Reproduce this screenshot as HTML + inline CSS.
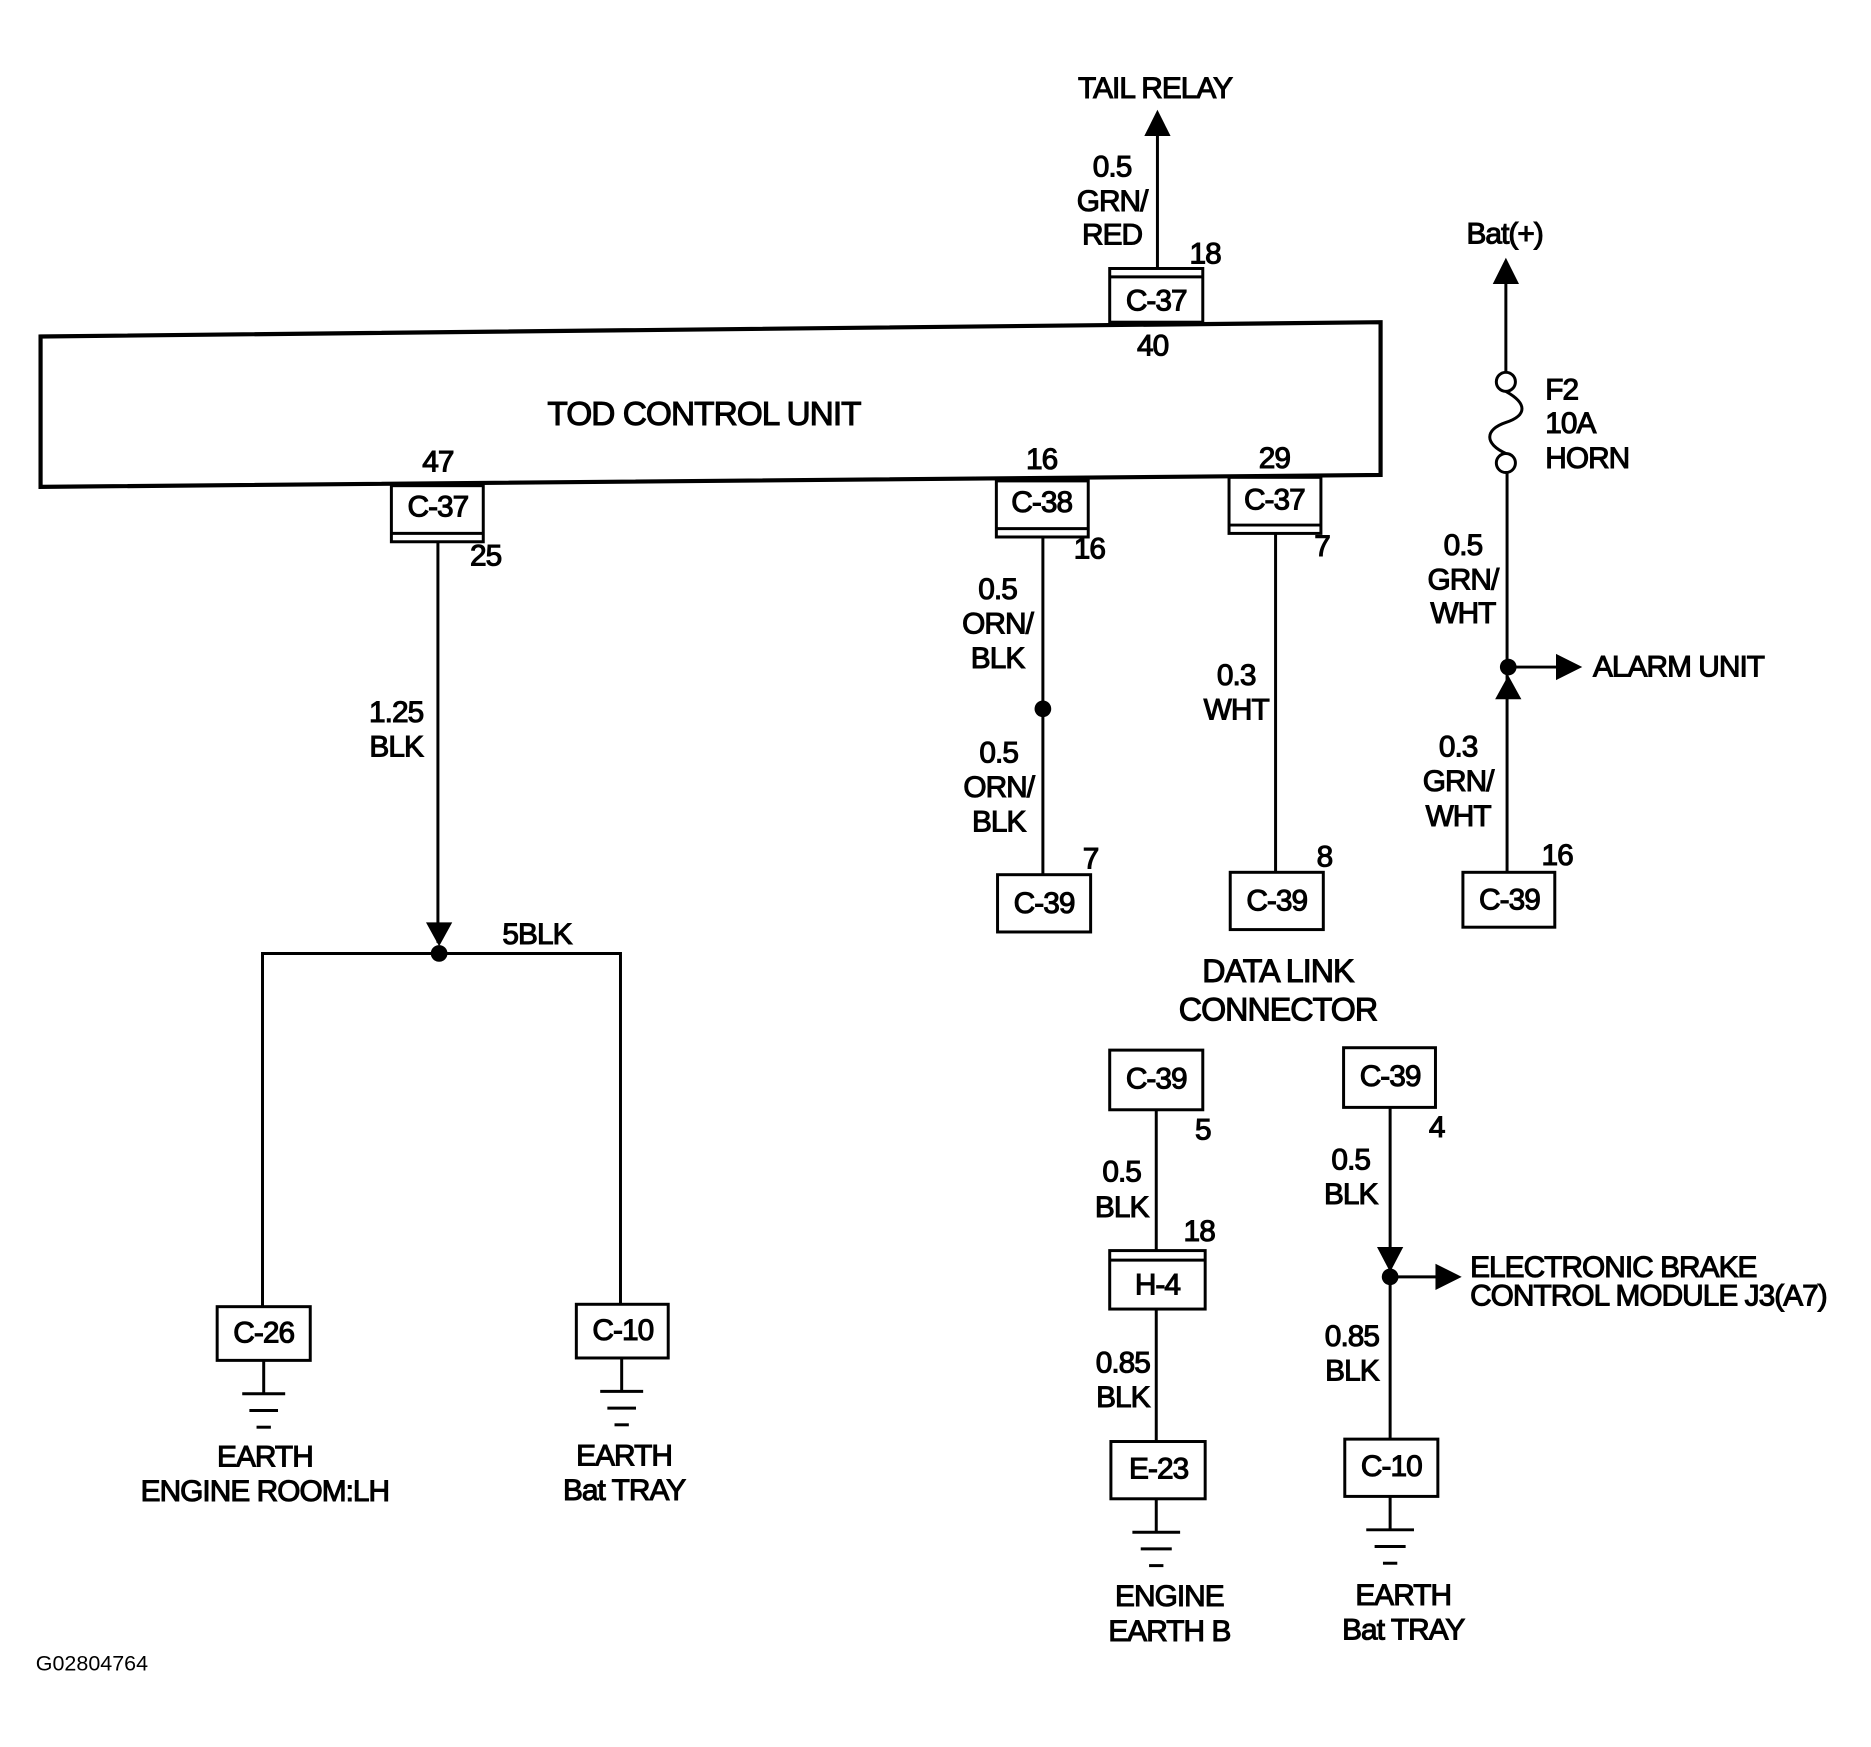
<!DOCTYPE html>
<html><head><meta charset="utf-8"><style>
html,body{margin:0;padding:0;background:#fff;}
svg{display:block;}
text{font-family:"Liberation Sans",Arial,sans-serif;font-size:25px;fill:#000;stroke:#000;stroke-width:0.9;letter-spacing:-0.8px;}
.m{text-anchor:middle}.e{text-anchor:end}
.w{stroke:#000;stroke-width:2.5;fill:none}
.b{stroke:#000;stroke-width:2.5;fill:#fff}
</style></head><body>
<svg width="1871" height="1747" viewBox="0 0 1568 1464" preserveAspectRatio="none" xmlns="http://www.w3.org/2000/svg">
<!-- TOD box -->
<polygon points="34,282 1157,270 1157,398 34,408" class="w" style="stroke-width:3.5"/>
<text x="590" y="356" class="m" style="font-size:28px">TOD CONTROL UNIT</text>

<!-- Tail relay -->
<text x="968" y="82" class="m">TAIL RELAY</text>
<polygon points="970,92 959,114 981,114"/>
<line x1="970" y1="112" x2="970" y2="225" class="w"/>
<text x="932" y="148" class="m">0.5</text>
<text x="932" y="177" class="m">GRN/</text>
<text x="932" y="205" class="m">RED</text>
<rect x="930" y="225" width="78" height="45" class="b"/><line x1="930" y1="232" x2="1008" y2="232" class="w"/>
<text x="1010" y="221" class="m">18</text>
<text x="969" y="260" class="m">C-37</text>
<text x="966" y="298" class="m">40</text>

<!-- Left branch -->
<text x="367" y="395" class="m">47</text>
<rect x="328" y="407" width="77" height="47" class="b"/><line x1="328" y1="447" x2="405" y2="447" class="w"/>
<text x="367" y="433" class="m">C-37</text>
<text x="407" y="474" class="m">25</text>
<line x1="367" y1="454" x2="367" y2="790" class="w"/>
<polygon points="357,773 379,773 368,793"/>
<circle cx="368" cy="799" r="7"/>
<text x="332" y="605" class="m">1.25</text>
<text x="332" y="634" class="m">BLK</text>
<text x="450" y="791" class="m">5BLK</text>
<polyline points="220,1095 220,799 520,799 520,1093" class="w"/>
<rect x="182" y="1095" width="78" height="45" class="b"/><text x="221" y="1125" class="m">C-26</text>
<line x1="221" y1="1140" x2="221" y2="1167" class="w"/>
<line x1="203" y1="1168" x2="239" y2="1168" class="w"/><line x1="209" y1="1182" x2="233" y2="1182" class="w"/><line x1="215" y1="1196" x2="227" y2="1196" class="w"/>
<text x="222" y="1229" class="m">EARTH</text><text x="222" y="1258" class="m">ENGINE ROOM:LH</text>
<rect x="483" y="1093" width="77" height="45" class="b"/><text x="522" y="1123" class="m">C-10</text>
<line x1="521" y1="1138" x2="521" y2="1165" class="w"/>
<line x1="503" y1="1166" x2="539" y2="1166" class="w"/><line x1="509" y1="1180" x2="533" y2="1180" class="w"/><line x1="515" y1="1194" x2="527" y2="1194" class="w"/>
<text x="523" y="1228" class="m">EARTH</text><text x="523" y="1257" class="m">Bat TRAY</text>

<!-- C-38 branch -->
<text x="873" y="393" class="m">16</text>
<rect x="835" y="403" width="77" height="47" class="b"/><line x1="835" y1="443" x2="912" y2="443" class="w"/>
<text x="873" y="429" class="m">C-38</text>
<text x="913" y="468" class="m">16</text>
<line x1="874" y1="450" x2="874" y2="733" class="w"/>
<circle cx="874" cy="594" r="7"/>
<text x="836" y="502" class="m">0.5</text><text x="836" y="531" class="m">ORN/</text><text x="836" y="560" class="m">BLK</text>
<text x="837" y="639" class="m">0.5</text><text x="837" y="668" class="m">ORN/</text><text x="837" y="697" class="m">BLK</text>
<text x="914" y="728" class="m">7</text>
<rect x="836" y="733" width="78" height="48" class="b"/><text x="875" y="765" class="m">C-39</text>

<!-- C-37 29 branch -->
<text x="1068" y="392" class="m">29</text>
<rect x="1030" y="400" width="77" height="47" class="b"/><line x1="1030" y1="440" x2="1107" y2="440" class="w"/>
<text x="1068" y="427" class="m">C-37</text>
<text x="1108" y="466" class="m">7</text>
<line x1="1069" y1="447" x2="1069" y2="731" class="w"/>
<text x="1036" y="574" class="m">0.3</text><text x="1036" y="603" class="m">WHT</text>
<text x="1110" y="726" class="m">8</text>
<rect x="1031" y="731" width="78" height="48" class="b"/><text x="1070" y="763" class="m">C-39</text>
<text x="1071" y="823" class="m" style="font-size:27px">DATA LINK</text><text x="1071" y="855" class="m" style="font-size:27px">CONNECTOR</text>

<!-- Bat+ branch -->
<text x="1261" y="204" class="m">Bat(+)</text>
<polygon points="1262,216 1251,238 1273,238"/>
<line x1="1262" y1="236" x2="1262" y2="312" class="w"/>
<circle cx="1262" cy="320" r="8" class="b"/>
<path d="M1262,328 C1280,338 1280,348 1262,354 C1244,360 1244,372 1262,380" class="w"/>
<circle cx="1262" cy="388" r="8" class="b"/>
<text x="1295" y="335">F2</text><text x="1295" y="363">10A</text><text x="1295" y="392">HORN</text>
<line x1="1263" y1="396" x2="1263" y2="731" class="w"/>
<text x="1226" y="465" class="m">0.5</text><text x="1226" y="494" class="m">GRN/</text><text x="1226" y="522" class="m">WHT</text>
<circle cx="1264" cy="559" r="7"/>
<line x1="1264" y1="559" x2="1310" y2="559" class="w"/>
<polygon points="1326,559 1304,548 1304,570"/>
<text x="1335" y="567">ALARM UNIT</text>
<polygon points="1264,566 1253,586 1275,586"/>
<text x="1222" y="634" class="m">0.3</text><text x="1222" y="663" class="m">GRN/</text><text x="1222" y="692" class="m">WHT</text>
<text x="1305" y="725" class="m">16</text>
<rect x="1226" y="731" width="77" height="46" class="b"/><text x="1265" y="762" class="m">C-39</text>

<!-- Lower middle -->
<rect x="930" y="880" width="78" height="50" class="b"/><text x="969" y="912" class="m">C-39</text>
<text x="1008" y="955" class="m">5</text>
<line x1="969" y1="930" x2="969" y2="1048" class="w"/>
<text x="940" y="990" class="m">0.5</text><text x="940" y="1020" class="m">BLK</text>
<text x="1005" y="1040" class="m">18</text>
<rect x="930" y="1048" width="80" height="49" class="b"/><line x1="930" y1="1056" x2="1010" y2="1056" class="w"/>
<text x="970" y="1085" class="m">H-4</text>
<line x1="969" y1="1097" x2="969" y2="1208" class="w"/>
<text x="941" y="1150" class="m">0.85</text><text x="941" y="1179" class="m">BLK</text>
<rect x="931" y="1208" width="79" height="48" class="b"/><text x="971" y="1239" class="m">E-23</text>
<line x1="969" y1="1256" x2="969" y2="1283" class="w"/>
<line x1="949" y1="1284" x2="989" y2="1284" class="w"/><line x1="956" y1="1298" x2="982" y2="1298" class="w"/><line x1="963" y1="1312" x2="975" y2="1312" class="w"/>
<text x="980" y="1346" class="m">ENGINE</text><text x="980" y="1375" class="m">EARTH B</text>

<!-- Lower right -->
<rect x="1126" y="878" width="77" height="50" class="b"/><text x="1165" y="910" class="m">C-39</text>
<text x="1204" y="953" class="m">4</text>
<line x1="1165" y1="928" x2="1165" y2="1206" class="w"/>
<polygon points="1154,1045 1176,1045 1165,1066"/>
<circle cx="1165" cy="1070" r="7"/>
<line x1="1165" y1="1070" x2="1208" y2="1070" class="w"/>
<polygon points="1225,1070 1203,1059 1203,1081"/>
<text x="1232" y="1070">ELECTRONIC BRAKE</text>
<text x="1232" y="1094">CONTROL MODULE J3(A7)</text>
<text x="1132" y="980" class="m">0.5</text><text x="1132" y="1009" class="m">BLK</text>
<text x="1133" y="1128" class="m">0.85</text><text x="1133" y="1157" class="m">BLK</text>
<rect x="1127" y="1206" width="78" height="48" class="b"/><text x="1166" y="1237" class="m">C-10</text>
<line x1="1165" y1="1254" x2="1165" y2="1281" class="w"/>
<line x1="1145" y1="1282" x2="1185" y2="1282" class="w"/><line x1="1152" y1="1296" x2="1178" y2="1296" class="w"/><line x1="1159" y1="1310" x2="1171" y2="1310" class="w"/>
<text x="1176" y="1345" class="m">EARTH</text><text x="1176" y="1374" class="m">Bat TRAY</text>

<text x="30" y="1400" style="font-size:18px;stroke-width:0;letter-spacing:0">G02804764</text>
</svg>
</body></html>
